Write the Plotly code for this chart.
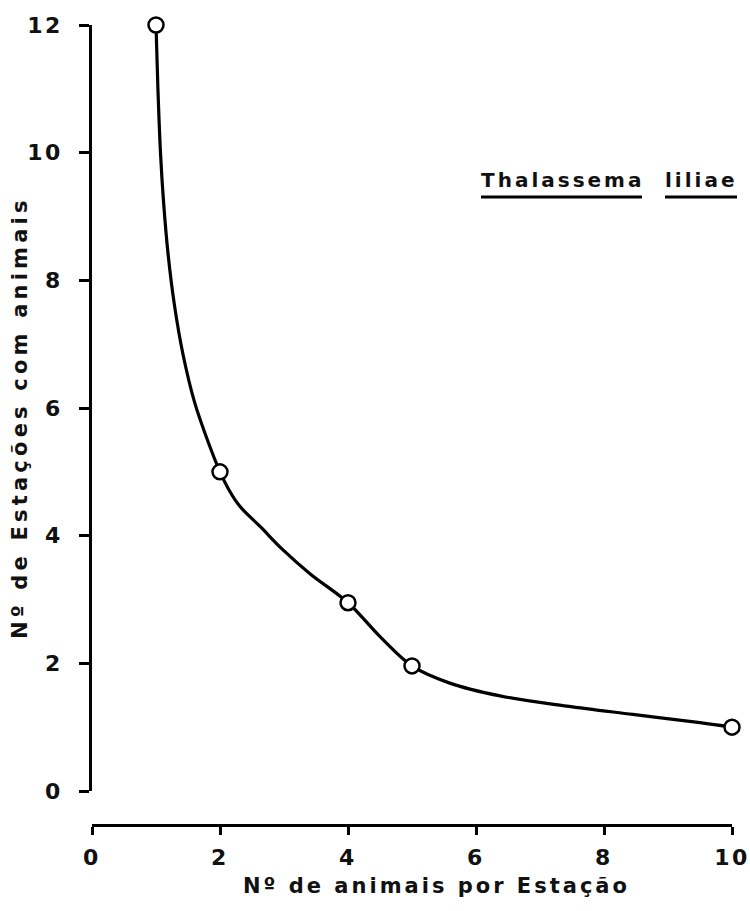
import plotly.graph_objects as go

# observed data points
pts_x = [1, 2, 4, 5, 10]
pts_y = [12, 5, 2.95, 1.96, 1]

# hand-drawn smooth curve
curve_x = [1, 1.03, 1.07, 1.12, 1.19, 1.29, 1.42, 1.60, 1.84, 2, 2.15, 2.31, 2.63, 2.98, 3.41, 4,
           4.5, 5, 5.59, 6.375, 7.42, 8.45, 9.5, 10]
curve_y = [12, 11, 10, 9.2, 8.4, 7.6, 6.85, 6.1, 5.4, 5, 4.7, 4.46, 4.14, 3.78, 3.40, 2.95,
           2.42, 1.96, 1.69, 1.49, 1.33, 1.2, 1.07, 1]

x_ticks = [0, 2, 4, 6, 8, 10]
y_ticks = [0, 2, 4, 6, 8, 10, 12]

x_title = "Nº de animais por Estação"
y_title = "Nº de Estações com animais"
species_genus = "Thalassema"
species_name = "liliae"

FONT = "DejaVu Sans"


def spaced(t, ls=2.5):
    return f'<span style="letter-spacing:{ls}px">{t}</span>'


fig = go.Figure()
fig.add_trace(go.Scatter(x=curve_x, y=curve_y, mode="lines",
                         line=dict(color="black", width=3.2, shape="spline", smoothing=1.0),
                         hoverinfo="skip", cliponaxis=False))
fig.add_trace(go.Scatter(x=pts_x, y=pts_y, mode="markers",
                         marker=dict(size=15, color="white", line=dict(color="black", width=2.5)),
                         cliponaxis=False))

tickfont = dict(size=22, family=FONT, weight="bold", color="#111")
fig.update_layout(
    width=750, height=911,
    margin=dict(l=92, r=18, t=25, b=86, autoexpand=False),
    paper_bgcolor="white", plot_bgcolor="white",
    showlegend=False,
    font=dict(family=FONT, size=22, color="#111"),
    xaxis=dict(range=[0, 10], tickvals=x_ticks, ticktext=[spaced(v) for v in x_ticks],
               ticks="outside", ticklen=8, tickwidth=2.5,
               tickcolor="black", showline=True, linecolor="black", linewidth=2.5,
               showgrid=False, zeroline=False, anchor="free", position=0,
               tickfont=tickfont, ticklabelstandoff=4, automargin=False),
    yaxis=dict(range=[0, 12], tickvals=y_ticks, ticktext=[spaced(v) for v in y_ticks],
               ticks="outside", ticklen=10, tickwidth=2.5,
               tickcolor="black", showline=True, linecolor="black", linewidth=2.5,
               showgrid=False, zeroline=False, domain=[0.0425, 1],
               tickfont=tickfont, ticklabelstandoff=12, automargin=False),
)

lblfont = dict(size=21, family=FONT, weight="bold", color="#111")
fig.add_annotation(text=spaced(x_title, 3), xref="paper", yref="paper",
                   x=(436 - 92) / 640, y=-(886 - 825) / 800, showarrow=False,
                   font=lblfont, xanchor="center", yanchor="middle")
fig.add_annotation(text=spaced(y_title, 4.2), xref="paper", yref="paper",
                   x=-(92 - 20) / 640, y=(825 - 418) / 800, showarrow=False, textangle=-90,
                   font=lblfont, xanchor="center", yanchor="middle")
fig.add_annotation(text=spaced(species_genus, 3), x=(479 - 92) / 640, y=(825 - 180) / 800,
                   xref="paper", yref="paper", showarrow=False, xanchor="left", yanchor="middle",
                   font=dict(size=20, family=FONT, weight="bold", color="#111"))
fig.add_annotation(text=spaced(species_name, 3), x=(663 - 92) / 640, y=(825 - 180) / 800,
                   xref="paper", yref="paper", showarrow=False, xanchor="left", yanchor="middle",
                   font=dict(size=20, family=FONT, weight="bold", color="#111"))
# underlines beneath the species name
for x0, x1 in [(481, 642), (665, 737)]:
    fig.add_shape(type="line", xref="paper", yref="paper",
                  x0=(x0 - 92) / 640, x1=(x1 - 92) / 640,
                  y0=(825 - 197) / 800, y1=(825 - 197) / 800,
                  line=dict(color="black", width=3))

fig.write_html("out.html", config={"displayModeBar": False},
               post_script="document.body.style.margin='0px';")
